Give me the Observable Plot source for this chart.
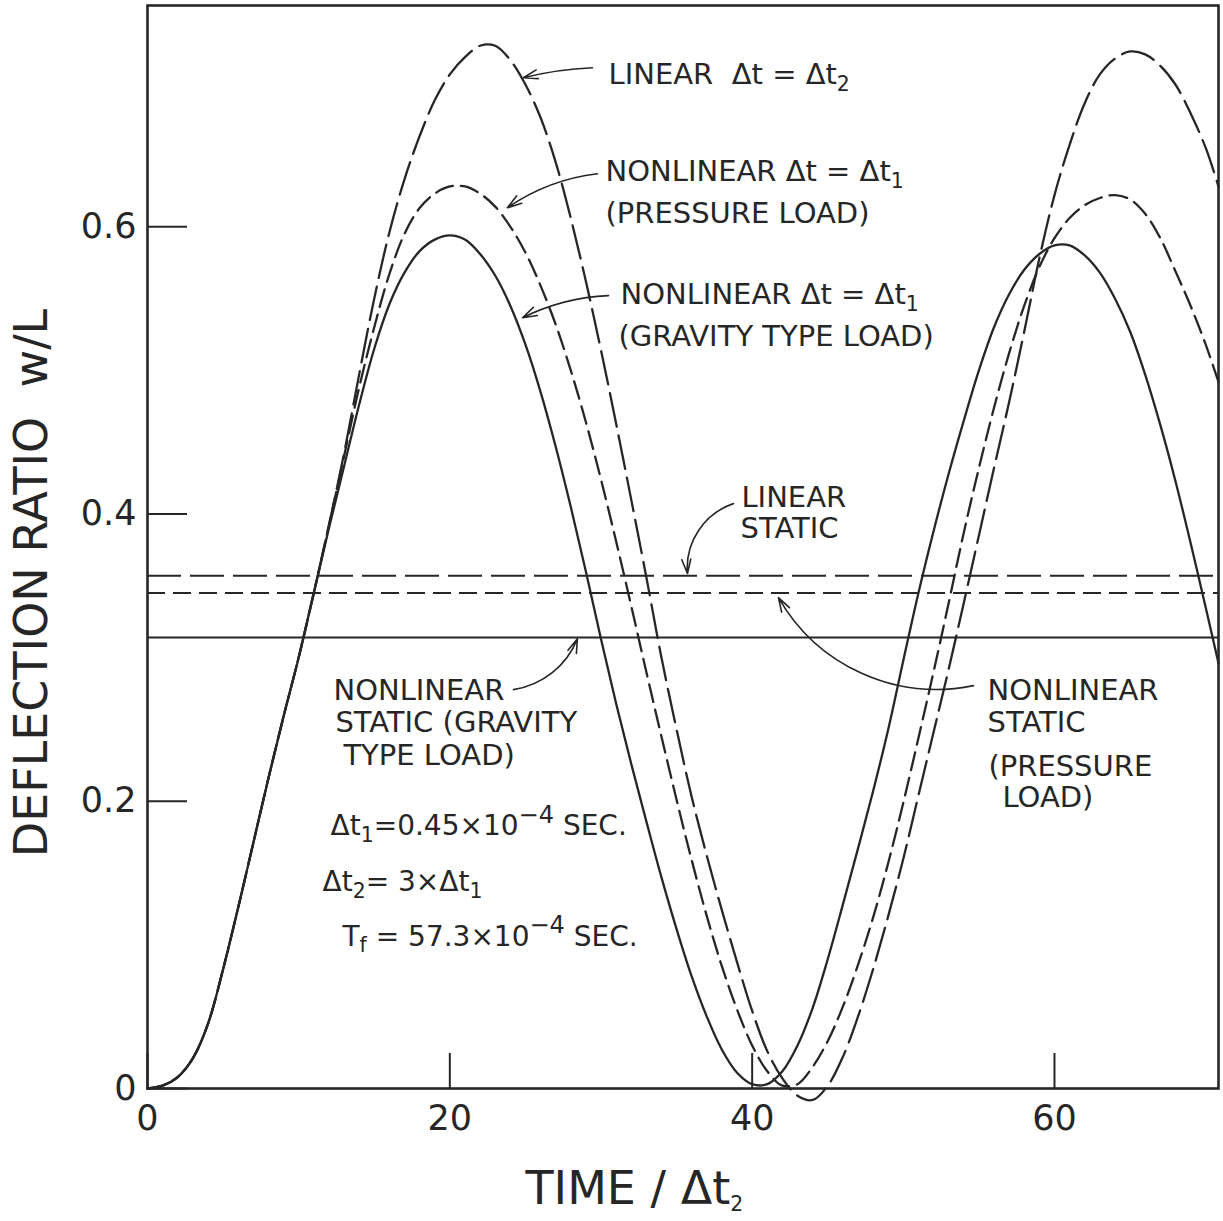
<!DOCTYPE html>
<html><head><meta charset="utf-8">
<script src="https://cdn.jsdelivr.net/npm/d3@7"></script>
<script src="https://cdn.jsdelivr.net/npm/@observablehq/plot@0.6"></script>
<style>
html,body{margin:0;padding:0;background:#fff;overflow:hidden;}
svg{display:block;}
</style>
</head><body><div id="chart"></div>
<script>
// ---- data ----
const time = [0,1,2,3,4,5,6,7,8,9,10,11,12,13,14,15,16,17,18,19,20,21,22,23,24,25,26,27,28,29,30,31,32,33,34,35,36,37,38,39,40,41,42,43,44,45,46,47,48,49,50,51,52,53,54,55,56,57,58,59,60,61,62,63,64,65,66,67,68,69,70,70.85];
const wLinear = [0,0.002,0.008,0.021,0.045,0.083,0.126,0.171,0.216,0.259,0.300,0.345,0.392,0.442,0.497,0.550,0.596,0.633,0.663,0.688,0.706,0.718,0.726,0.726,0.716,0.699,0.676,0.645,0.606,0.562,0.514,0.463,0.410,0.356,0.300,0.250,0.203,0.162,0.124,0.088,0.054,0.026,0.007,-0.005,-0.008,0.002,0.022,0.050,0.083,0.120,0.160,0.204,0.248,0.292,0.338,0.385,0.432,0.478,0.527,0.578,0.622,0.657,0.686,0.706,0.717,0.722,0.720,0.712,0.699,0.679,0.655,0.628];
const wPressure = [0,0.002,0.008,0.021,0.045,0.083,0.126,0.171,0.216,0.259,0.300,0.345,0.392,0.440,0.488,0.530,0.567,0.595,0.613,0.623,0.628,0.628,0.623,0.614,0.600,0.582,0.559,0.532,0.500,0.464,0.424,0.381,0.336,0.290,0.245,0.201,0.159,0.120,0.085,0.055,0.030,0.012,0.002,0.003,0.015,0.033,0.057,0.086,0.119,0.157,0.199,0.244,0.290,0.338,0.387,0.432,0.474,0.512,0.545,0.572,0.592,0.606,0.615,0.620,0.622,0.619,0.609,0.592,0.569,0.545,0.518,0.492];
const wGravity = [0,0.002,0.008,0.021,0.045,0.083,0.126,0.171,0.216,0.259,0.300,0.345,0.390,0.433,0.476,0.515,0.546,0.568,0.583,0.591,0.594,0.591,0.581,0.566,0.545,0.518,0.485,0.447,0.405,0.360,0.313,0.268,0.226,0.186,0.147,0.111,0.078,0.050,0.027,0.011,0.003,0.003,0.012,0.030,0.056,0.090,0.128,0.167,0.207,0.250,0.298,0.345,0.388,0.428,0.465,0.500,0.530,0.553,0.570,0.581,0.587,0.587,0.580,0.568,0.550,0.527,0.497,0.462,0.423,0.380,0.335,0.296];

const staticLinear = 0.357;
const staticPressure = 0.345;
const staticGravity = 0.314;

const xTicks = [0, 20, 40, 60];
const yTicks = [0, 0.2, 0.4, 0.6];
const xTitle = "TIME / Δt_{2}";
const yTitle = "DEFLECTION RATIO  w/L";

// curve labels (text, anchor in data units)
const noteText = [
  "LINEAR  Δt = Δt_{2}",
  "NONLINEAR Δt = Δt_{1}",
  "(PRESSURE LOAD)",
  "NONLINEAR Δt = Δt_{1}",
  "(GRAVITY TYPE LOAD)",
  "LINEAR",
  "STATIC",
  "NONLINEAR",
  "STATIC (GRAVITY",
  "TYPE LOAD)",
  "NONLINEAR",
  "STATIC",
  "(PRESSURE",
  "LOAD)"
];
const noteX = [30.50,30.30,30.30,31.29,31.16,39.29,39.23,12.30,12.43,12.96,55.57,55.57,55.63,56.56];
const noteY = [0.7058,0.6383,0.6087,0.5527,0.5234,0.4114,0.3898,0.2770,0.2548,0.2318,0.2770,0.2547,0.2241,0.2025];

// parameter block
const paramText = [
  "Δt_{1}=0.45×10^{−4} SEC.",
  "Δt_{2}= 3×Δt_{1}",
  "T_{f} = 57.3×10^{−4} SEC."
];
const paramX = [12.11, 11.58, 12.90];
const paramY = [0.1824, 0.1434, 0.1058];

// leader arrows: start (near label) -> tip (on curve)
const arrowX1 = [29.44,29.77,30.50,38.76,54.64,24.21];
const arrowY1 = [0.7107,0.6369,0.5520,0.4072,0.2805,0.2777];
const arrowX2 = [24.87,23.81,24.81,35.72,41.74,28.44];
const arrowY2 = [0.7037,0.6132,0.5366,0.3585,0.3418,0.3132];
const arrowBend = [-6,-14,-12,-38,36,-30];

// ---- build ----
const ink = "#262626";
const rows = (ws) => time.map((t, i) => ({t, w: ws[i]}));
const notes = noteText.map((text, i) => ({text, x: noteX[i], y: noteY[i]}));
const params = paramText.map((text, i) => ({text, x: paramX[i], y: paramY[i]}));
const arrows = arrowX1.map((x1, i) => ({x1, y1: arrowY1[i], x2: arrowX2[i], y2: arrowY2[i], bend: arrowBend[i]}));

const lineOpts = {x: "t", y: "w", curve: "catmull-rom", stroke: ink, strokeWidth: 2.3};

const chart = Plot.plot({
  width: 1223,
  height: 1221,
  marginLeft: 147,
  marginRight: 5,
  marginTop: 5,
  marginBottom: 133,
  x: {domain: [0, 70.85]},
  y: {domain: [0, 0.754]},
  style: {fontFamily: "'DejaVu Sans', sans-serif", fontSize: "35px", color: ink, background: "#fff"},
  marks: [
    Plot.frame({stroke: ink, strokeWidth: 2.6}),
    Plot.axisX({ticks: xTicks, tickSize: -35, tickPadding: 52, strokeWidth: 2, label: null, tickFormat: d => String(d), fontSize: 35}),
    Plot.axisY({ticks: yTicks, tickSize: -40, tickPadding: 51, strokeWidth: 2, label: null, tickFormat: d => d === 0 ? "0" : d.toFixed(1), fontSize: 35}),
    Plot.ruleY([staticLinear], {stroke: ink, strokeWidth: 2, strokeDasharray: "34,9"}),
    Plot.ruleY([staticPressure], {stroke: ink, strokeWidth: 2, strokeDasharray: "18,8"}),
    Plot.ruleY([staticGravity], {stroke: ink, strokeWidth: 2}),
    Plot.line(rows(wLinear), {...lineOpts, strokeDasharray: "34,9"}),
    Plot.line(rows(wPressure), {...lineOpts, strokeDasharray: "18,8"}),
    Plot.line(rows(wGravity), lineOpts),
    ...arrows.map(a => Plot.arrow([a], {x1: "x1", y1: "y1", x2: "x2", y2: "y2", bend: a.bend, stroke: ink, strokeWidth: 1.6, headLength: 14, headAngle: 35})),
    Plot.text(notes, {x: "x", y: "y", text: "text", textAnchor: "start", lineAnchor: "middle", fontSize: 29, fill: ink}),
    Plot.text(params, {x: "x", y: "y", text: "text", textAnchor: "start", lineAnchor: "middle", fontSize: 28, fill: ink}),
    Plot.text([yTitle], {frameAnchor: "left", textAnchor: "middle", rotate: -90, dx: -115, dy: 36, fontSize: 46, fill: ink}),
    Plot.text([xTitle], {frameAnchor: "bottom", textAnchor: "start", lineAnchor: "middle", dx: -157.5, dy: 101, fontSize: 46, fill: ink})
  ]
});

// render _{sub} and ^{sup} markup as real tspans
function richify(svg) {
  const NS = "http://www.w3.org/2000/svg";
  svg.querySelectorAll("text").forEach(t => {
    const s = t.textContent;
    if (!/[_^]\{/.test(s)) return;
    const fs = parseFloat(getComputedStyle(t).fontSize) || 30;
    const parts = s.split(/([_^]\{[^}]*\})/).filter(p => p.length);
    while (t.firstChild) t.removeChild(t.firstChild);
    let cur = 0;
    for (const p of parts) {
      const ts = document.createElementNS(NS, "tspan");
      const m = p.match(/^([_^])\{([^}]*)\}$/);
      let target = 0;
      if (m) {
        const sub = m[1] === "_";
        target = sub ? 0.22 * fs : -0.42 * fs;
        ts.textContent = m[2];
        ts.setAttribute("font-size", ((sub ? 0.68 : 0.8) * fs).toFixed(1));
      } else {
        ts.textContent = p;
      }
      const d = target - cur;
      if (d !== 0) ts.setAttribute("dy", d.toFixed(1));
      cur = target;
      t.appendChild(ts);
    }
  });
}
richify(chart);
document.getElementById("chart").appendChild(chart);
</script>
</body></html>
